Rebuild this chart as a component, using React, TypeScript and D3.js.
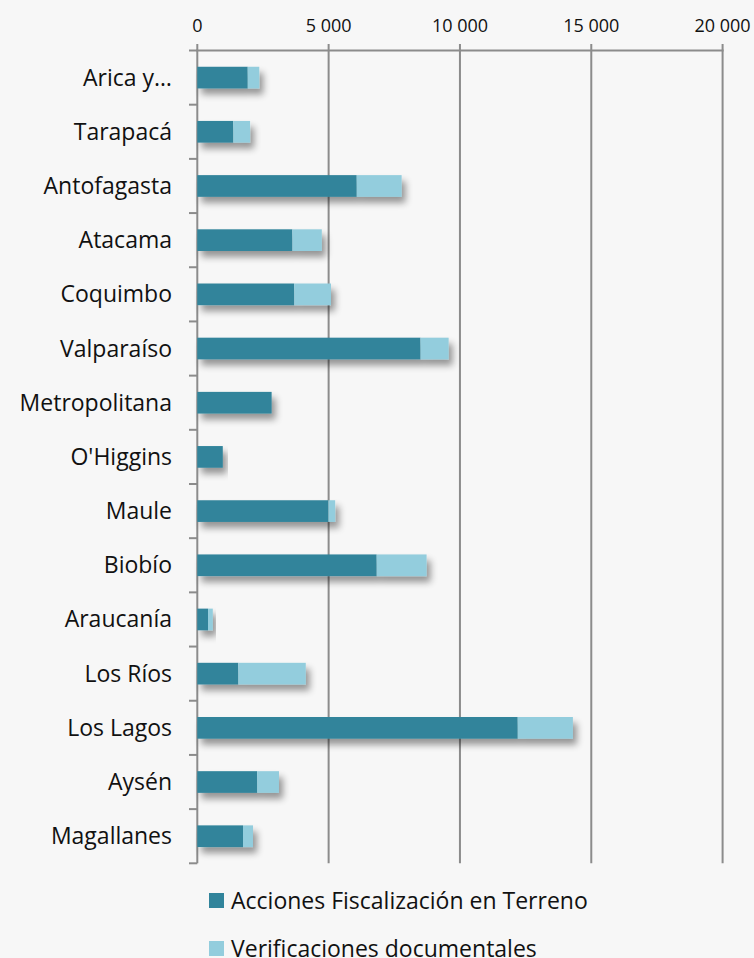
import React from "react";
import * as d3 from "d3";

const categories = [
  "Arica y…", "Tarapacá", "Antofagasta", "Atacama", "Coquimbo", "Valparaíso",
  "Metropolitana", "O'Higgins", "Maule", "Biobío", "Araucanía", "Los Ríos",
  "Los Lagos", "Aysén", "Magallanes",
];
const terreno = [1920, 1370, 6070, 3620, 3690, 8500, 2830, 970, 4990, 6830, 410, 1560, 12200, 2280, 1740];
const documentales = [440, 640, 1710, 1120, 1400, 1070, 0, 0, 260, 1900, 180, 2570, 2100, 830, 380];
const seriesNames = ["Acciones Fiscalización en Terreno", "Verificaciones documentales"];
const xTicks = [0, 5000, 10000, 15000, 20000];

const W = 754, H = 958;
const COLORS = ["#31849B", "#93CDDD"];
const FONT = "'Open Sans', 'DejaVu Sans', sans-serif";

export default function App() {
  const left = 197.3, right = 722.6, top = 50.5, bottom = 863.3;
  const x = d3.scaleLinear().domain([0, 20000]).range([left, right]);
  const y = d3.scaleBand().domain(categories).range([top, bottom]).paddingInner(0.6).paddingOuter(0.3);
  const yb = d3.scaleBand().domain(categories).range([top, bottom]);
  const fmt = (v: number) => d3.format(",")(v).replace(/,/g, " ");
  const stack = d3.stack<number>().keys(["t", "d"]).value((i, k) => (k === "t" ? terreno[i] : documentales[i]));
  const layers = stack(categories.map((_, i) => i));
  const grid = "#8c8c8c";

  return (
    <svg width={W} height={H} style={{ position: "absolute", left: 0, top: 0, background: "#F7F7F7" }}>
      <defs>
        <filter id="sh" x="-10%" y="-60%" width="130%" height="280%">
          <feGaussianBlur in="SourceAlpha" stdDeviation="3.5" />
          <feOffset dx="4" dy="6" result="ob" />
          <feComponentTransfer>
            <feFuncA type="linear" slope="0.4" />
          </feComponentTransfer>
          <feMerge>
            <feMergeNode />
            <feMergeNode in="SourceGraphic" />
          </feMerge>
        </filter>
      </defs>
      <rect x={0} y={0} width={W} height={H} fill="#F7F7F7" />
      {xTicks.map((t) => (
        <g key={t}>
          <line x1={x(t)} x2={x(t)} y1={44} y2={bottom} stroke={grid} strokeWidth={2} />
          <text x={x(t)} y={32} textAnchor="middle" fontFamily={FONT} fontSize={18} fill="#111">
            {fmt(t)}
          </text>
        </g>
      ))}
      <line x1={left - 1} x2={right + 1} y1={top} y2={top} stroke={grid} strokeWidth={2} />
      {categories.map((c) => (
        <line key={c} x1={189} x2={left} y1={yb(c)!} y2={yb(c)!} stroke={grid} strokeWidth={2} />
      ))}
      <line x1={189} x2={left} y1={bottom} y2={bottom} stroke={grid} strokeWidth={2} />
      {categories.map((c, i) => (
        <g key={c} filter="url(#sh)">
          {layers.map((L, k) => {
            const [a, b] = L[i];
            if (b - a <= 0) return null;
            return (
              <rect key={k} x={x(a)} y={y(c)!} width={x(b) - x(a)} height={y.bandwidth()} fill={COLORS[k]} />
            );
          })}
        </g>
      ))}
      {categories.map((c) => (
        <text key={c} x={172} y={yb(c)! + yb.bandwidth() / 2 + 8} textAnchor="end" fontFamily={FONT} fontSize={23} fill="#111">
          {c}
        </text>
      ))}
      {seriesNames.map((s, i) => (
        <g key={s} transform={`translate(209, ${893 + i * 48})`}>
          <rect x={0} y={0} width={15} height={15} fill={COLORS[i]} />
          <text x={22} y={15.5} fontFamily={FONT} fontSize={23} fill="#111">
            {s}
          </text>
        </g>
      ))}
    </svg>
  );
}
